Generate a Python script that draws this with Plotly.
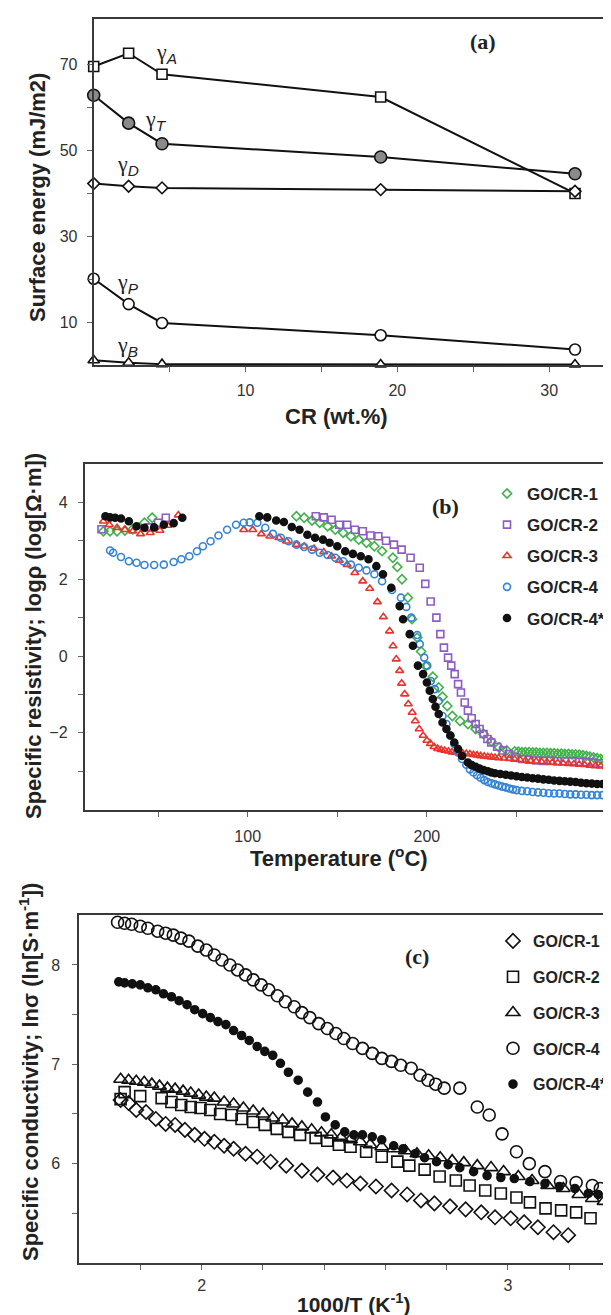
import plotly.graph_objects as go

W, H = 611, 1315

# ---------------- panel (a): surface energy vs CR ----------------
cr = [0.0, 2.3, 4.5, 18.9, 31.7]
gamma_a = [69.6, 72.7, 67.8, 62.5, 40.0]
gamma_t = [62.9, 56.4, 51.6, 48.5, 44.6]
gamma_d = [42.3, 41.7, 41.3, 40.9, 40.5]
gamma_p = [20.1, 14.2, 9.8, 6.95, 3.6]
gamma_b = [1.1, 0.5, 0.2, 0.1, 0.1]

# ---------------- panel (b): log resistivity vs temperature ----------------
t_cr1 = [19.5, 23.2, 27.1, 31.5, 35.8, 42.4, 46.7,
         127.2, 131.5, 135.9, 140.2, 144.6, 148.9, 153.3, 157.6, 162.0, 166.3, 170.7, 175.0,
         181.0, 183.5, 186.1, 189.4, 191.7, 194.6, 196.8, 199.4, 203.3, 206.6, 208.7, 211.4,
         214.2, 218.5, 222.9, 227.2, 231.6, 235.9, 240.3, 244.6, 249.0,
         251, 253, 255, 257, 259, 261, 263, 265, 267, 269, 271, 273, 275, 277, 279, 281,
         283, 285, 287, 289, 291, 293, 295, 297, 299, 301, 303, 305, 307]
r_cr1 = [3.25, 3.25, 3.25, 3.27, 3.3, 3.47, 3.6,
         3.64, 3.6, 3.53, 3.47, 3.38, 3.29, 3.21, 3.12, 3.03, 2.95, 2.86, 2.73,
         2.56, 2.32, 2.0, 1.52, 0.96, 0.48, 0.12, -0.26, -0.54, -0.82, -1.06, -1.3,
         -1.56, -1.69, -1.77, -1.9, -2.03, -2.22, -2.38, -2.46, -2.48,
         -2.49, -2.5, -2.5, -2.5, -2.51, -2.51, -2.52, -2.52, -2.52, -2.53, -2.53, -2.54, -2.54,
         -2.55, -2.55, -2.56, -2.56, -2.57, -2.58, -2.6, -2.62, -2.64, -2.66, -2.68, -2.7,
         -2.72, -2.73, -2.75, -2.76]

t_cr2 = [18.4, 45.0, 50.0, 54.3,
         138.0, 142.4, 146.8, 151.1, 155.5, 159.8, 164.2, 168.5, 172.9, 177.2, 181.6, 185.9,
         190.9, 196.0, 199.1, 202.1, 205.3, 207.5, 209.5, 211.8, 213.6, 215.5, 217.4, 219.0,
         221.1, 222.9, 225.0, 227.2, 229.4, 231.6, 233.8, 235.9, 239.2, 242.5, 245.7, 249.0,
         253.3, 257, 261, 265, 269, 273, 277, 281, 285, 289, 293, 297, 301, 305, 307]
r_cr2 = [3.3, 3.35, 3.47, 3.6,
         3.64, 3.61, 3.55, 3.42, 3.42, 3.29, 3.25, 3.14, 3.12, 3.0, 2.9, 2.77,
         2.56, 2.3, 1.88, 1.42, 1.0, 0.57, 0.22, -0.04, -0.25, -0.47, -0.73, -0.95,
         -1.21, -1.42, -1.62, -1.77, -1.9, -2.03, -2.16, -2.25, -2.36, -2.46, -2.55, -2.62,
         -2.68, -2.7, -2.72, -2.73, -2.73, -2.74, -2.74, -2.74, -2.75, -2.76, -2.77, -2.79,
         -2.8, -2.82, -2.83]

t_cr3 = [19.5, 22.8, 27.1, 31.5, 35.8, 40.2, 45.6, 51.0, 55.4, 61.3,
         97.8, 102.8, 107.6, 112.4, 117.4, 121.7, 127.2, 131.5, 137.0, 142.4, 146.8, 151.1,
         155.5, 159.8, 164.2, 168.1, 172.4, 175.7, 179.2, 181.1, 182.9, 184.8, 185.9, 187.6,
         189.6, 191.8, 193.5, 195.7, 197.9, 200.0, 202, 204, 206, 208, 210, 212, 214, 216,
         218, 220, 222, 224, 226, 228, 230, 232, 234, 236, 238, 240, 243, 246, 249, 252,
         255, 258, 261, 264, 267, 270, 273, 276, 279, 282, 285, 288, 291, 294, 297, 300,
         303, 306]
r_cr3 = [3.51, 3.42, 3.34, 3.29, 3.25, 3.18, 3.21, 3.27, 3.4, 3.67,
         3.29, 3.29, 3.18, 3.12, 3.08, 2.99, 2.9, 2.86, 2.8, 2.71, 2.6, 2.49,
         2.38, 2.17, 1.95, 1.76, 1.41, 1.02, 0.65, 0.26, -0.08, -0.38, -0.71, -0.99,
         -1.25, -1.47, -1.69, -1.9, -2.07, -2.2, -2.28, -2.36, -2.41, -2.44, -2.46, -2.48,
         -2.5, -2.51, -2.52, -2.53, -2.54, -2.55, -2.57, -2.58, -2.6, -2.61, -2.62, -2.63,
         -2.64, -2.65, -2.66, -2.67, -2.69, -2.7, -2.72, -2.73, -2.74, -2.75, -2.76, -2.77,
         -2.78, -2.79, -2.8, -2.81, -2.82, -2.83, -2.85, -2.86, -2.87, -2.88, -2.89, -2.9]

t_cr4 = [23.2, 24.9, 29.3, 33.7, 38.0, 42.4, 47.8, 53.2, 58.7, 63.0, 67.4, 71.7, 75.0,
         79.3, 83.7, 88.5, 93.5, 97.8, 101.1, 105.4, 109.8, 114.1, 118.5, 122.8, 127.2,
         131.5, 135.9, 140.2, 144.6, 148.9, 153.3, 157.6, 162.0, 166.3, 170.7, 175.0, 180.5,
         185.5, 188.5, 191.3, 194.6, 196.0, 198.5, 200.2, 202.2, 204.4, 206.6, 208.7, 210.9,
         213.1, 215.3, 217.4, 219.6, 222, 224, 226, 228, 230, 232, 234, 236, 238, 240, 242,
         244, 246, 248, 250, 253, 256, 259, 262, 265, 268, 271, 274, 277, 280, 283, 286, 289,
         292, 295, 298, 301, 304, 307]
r_cr4 = [2.75, 2.69, 2.58, 2.47, 2.43, 2.37, 2.37, 2.38, 2.45, 2.52, 2.6, 2.73, 2.86,
         2.99, 3.14, 3.29, 3.42, 3.47, 3.48, 3.47, 3.34, 3.18, 3.08, 2.99, 2.9,
         2.84, 2.77, 2.69, 2.63, 2.56, 2.47, 2.38, 2.3, 2.23, 2.13, 1.95, 1.72,
         1.52, 1.28, 1.0, 0.55, 0.31, -0.04, -0.25, -0.65, -0.86, -1.17, -1.56, -1.77,
         -2.07, -2.29, -2.51, -2.68, -2.83, -2.95, -3.03, -3.1, -3.17, -3.23, -3.28, -3.31,
         -3.34, -3.37, -3.4, -3.42, -3.45, -3.47, -3.49, -3.51, -3.52, -3.54, -3.55, -3.56,
         -3.57, -3.58, -3.58, -3.59, -3.6, -3.6, -3.61, -3.61, -3.62, -3.62, -3.62, -3.62,
         -3.62, -3.6]

t_cr4s = [20.6, 23.2, 26.0, 29.3, 33.7, 38.0, 42.4, 47.8, 53.2, 58.7, 63.5,
          106.5, 110.9, 115.9, 120.2, 124.6, 128.9, 133.3, 137.6, 142.0, 145.7, 150.0, 154.4,
          158.7, 163.1, 167.4, 171.8, 175.5, 180.1, 184.8, 186.7, 190.4, 192.2, 195.0, 197.9,
          200.0, 201.6, 203.3, 204.8, 206.6, 208.7, 210.9, 213.1, 215.3, 217.4, 219.6, 222.9,
          225.0, 227.2, 229.4, 231.6, 234, 236, 238, 241, 244, 247, 250, 253, 256, 259, 262,
          265, 268, 271, 274, 277, 280, 283, 286, 289, 292, 295, 298, 301, 304, 307]
r_cr4s = [3.64, 3.61, 3.6, 3.58, 3.51, 3.38, 3.34, 3.35, 3.42, 3.46, 3.6,
          3.64, 3.61, 3.53, 3.49, 3.36, 3.29, 3.16, 3.08, 3.03, 2.95, 2.86, 2.73,
          2.66, 2.6, 2.52, 2.34, 2.13, 1.78, 1.3, 0.96, 0.57, 0.27, -0.25, -0.47,
          -0.69, -0.9, -1.12, -1.32, -1.51, -1.73, -1.9, -2.07, -2.25, -2.42, -2.6, -2.77,
          -2.84, -2.88, -2.93, -2.97, -3.0, -3.03, -3.05, -3.07, -3.09, -3.11, -3.13, -3.15,
          -3.16, -3.18, -3.19, -3.21, -3.22, -3.24, -3.25, -3.26, -3.27, -3.28, -3.3, -3.31,
          -3.32, -3.33, -3.33, -3.34, -3.35, -3.35]

# ---------------- panel (c): ln conductivity vs 1000/T ----------------
x_c1 = [1.735, 1.761, 1.786, 1.818, 1.85, 1.882, 1.913, 1.945, 1.977, 2.009, 2.041, 2.073,
        2.104, 2.143, 2.181, 2.225, 2.276, 2.327, 2.378, 2.429, 2.474, 2.518, 2.569, 2.62,
        2.671, 2.716, 2.76, 2.811, 2.862, 2.913, 2.958, 3.009, 3.053, 3.098, 3.149, 3.197]
s_c1 = [6.64, 6.61, 6.54, 6.52, 6.45, 6.4, 6.39, 6.34, 6.29, 6.25, 6.22, 6.18,
        6.15, 6.1, 6.07, 6.02, 5.98, 5.93, 5.89, 5.86, 5.83, 5.8, 5.77, 5.73,
        5.69, 5.63, 5.6, 5.57, 5.54, 5.51, 5.46, 5.45, 5.41, 5.36, 5.31, 5.28]

x_c2 = [1.735, 1.748, 1.799, 1.869, 1.901, 1.933, 1.964, 1.996, 2.028, 2.06, 2.098, 2.13,
        2.168, 2.206, 2.245, 2.283, 2.321, 2.372, 2.41, 2.448, 2.486, 2.537, 2.588, 2.639,
        2.678, 2.728, 2.777, 2.83, 2.875, 2.926, 2.977, 3.028, 3.072, 3.123, 3.174, 3.223,
        3.27]
s_c2 = [6.65, 6.72, 6.68, 6.66, 6.62, 6.59, 6.57, 6.56, 6.54, 6.5, 6.49, 6.45,
        6.42, 6.39, 6.35, 6.32, 6.29, 6.26, 6.23, 6.19, 6.17, 6.12, 6.07, 6.02,
        5.98, 5.94, 5.87, 5.83, 5.78, 5.73, 5.7, 5.66, 5.61, 5.55, 5.53, 5.51,
        5.45]

x_c3 = [1.735, 1.761, 1.786, 1.812, 1.837, 1.862, 1.888, 1.913, 1.939, 1.964, 1.99, 2.015,
        2.041, 2.073, 2.104, 2.136, 2.168, 2.2, 2.232, 2.264, 2.295, 2.327, 2.359, 2.391,
        2.423, 2.455, 2.486, 2.518, 2.55, 2.588, 2.627, 2.665, 2.703, 2.741, 2.779, 2.818,
        2.856, 2.9, 2.945, 2.986, 3.034, 3.079, 3.13, 3.181, 3.232, 3.276, 3.314]
s_c3 = [6.85, 6.84, 6.83, 6.82, 6.8, 6.78, 6.76, 6.75, 6.73, 6.71, 6.69, 6.67,
        6.66, 6.62, 6.6, 6.56, 6.53, 6.5, 6.46, 6.44, 6.4, 6.37, 6.34, 6.31,
        6.29, 6.26, 6.24, 6.22, 6.19, 6.17, 6.15, 6.13, 6.1, 6.08, 6.06, 6.03,
        6.01, 5.98, 5.96, 5.92, 5.87, 5.83, 5.78, 5.75, 5.69, 5.65, 5.62]

x_c4 = [1.725, 1.748, 1.771, 1.799, 1.824, 1.856, 1.882, 1.907, 1.932, 1.958, 1.987, 2.015,
        2.041, 2.066, 2.092, 2.117, 2.143, 2.168, 2.194, 2.219, 2.247, 2.273, 2.302, 2.327,
        2.353, 2.382, 2.41, 2.438, 2.464, 2.493, 2.525, 2.557, 2.588, 2.62, 2.65, 2.684,
        2.713, 2.739, 2.764, 2.792, 2.843, 2.9, 2.939, 2.981, 3.028, 3.07, 3.121, 3.172,
        3.223, 3.276, 3.302]
s_c4 = [8.43, 8.42, 8.41, 8.39, 8.37, 8.34, 8.32, 8.3, 8.27, 8.24, 8.19, 8.15,
        8.1, 8.05, 8.0, 7.95, 7.9, 7.85, 7.8, 7.75, 7.69, 7.63, 7.58, 7.52,
        7.47, 7.41, 7.36, 7.31, 7.26, 7.21, 7.16, 7.11, 7.06, 7.03, 6.99, 6.96,
        6.89, 6.84, 6.8, 6.76, 6.76, 6.57, 6.49, 6.3, 6.12, 6.0, 5.92, 5.82,
        5.81, 5.78, 5.75]

x_c4s = [1.729, 1.748, 1.773, 1.799, 1.824, 1.85, 1.875, 1.901, 1.926, 1.952, 1.977, 2.003,
         2.028, 2.053, 2.079, 2.104, 2.13, 2.155, 2.181, 2.206, 2.232, 2.257, 2.283, 2.315,
         2.346, 2.378, 2.404, 2.436, 2.467, 2.497, 2.525, 2.557, 2.588, 2.627, 2.658, 2.697,
         2.728, 2.767, 2.805, 2.843, 2.888, 2.932, 2.977, 3.021, 3.072, 3.121, 3.168, 3.219,
         3.263, 3.295]
s_c4s = [7.83, 7.82, 7.81, 7.8, 7.77, 7.75, 7.71, 7.68, 7.64, 7.6, 7.55, 7.51,
         7.47, 7.43, 7.4, 7.34, 7.29, 7.24, 7.18, 7.13, 7.09, 7.01, 6.92, 6.84,
         6.72, 6.62, 6.47, 6.39, 6.32, 6.29, 6.29, 6.27, 6.24, 6.18, 6.15, 6.1,
         6.06, 6.02, 5.99, 5.96, 5.92, 5.88, 5.86, 5.85, 5.82, 5.8, 5.77, 5.75,
         5.7, 5.69]

SANS = "Liberation Sans, Arial, sans-serif"
SERIF = "Liberation Serif, Times New Roman, serif"
AX = "#3a3a3a"

fig = go.Figure()


def px_x(p):
    return p / W


def px_y(p):
    return 1 - p / H


# panel (a) lines
a_series = [
    (gamma_a, "square", "white", 10),
    (gamma_t, "circle", "#8a8a8a", 12),
    (gamma_d, "diamond", "white", 9),
    (gamma_p, "circle", "white", 11),
    (gamma_b, "triangle-up", "white", 10),
]
for vals, sym, fill, size in a_series:
    fig.add_trace(go.Scatter(
        x=cr, y=vals, mode="lines+markers", xaxis="x", yaxis="y", showlegend=False,
        line=dict(color="#111", width=2),
        marker=dict(symbol=sym, color=fill, size=size, line=dict(color="#111", width=1.6)),
        cliponaxis=False))

# panel (b) scatter
b_series = [
    ("GO/CR-1", t_cr1, r_cr1, "diamond-open", "#3fb24a", 7),
    ("GO/CR-2", t_cr2, r_cr2, "square-open", "#8d5cc4", 7),
    ("GO/CR-3", t_cr3, r_cr3, "triangle-up-open", "#e8342b", 7),
    ("GO/CR-4", t_cr4, r_cr4, "circle-open", "#3383d6", 7),
    ("GO/CR-4*", t_cr4s, r_cr4s, "circle", "#111111", 7),
]
for name, xs, ys, sym, col, size in b_series:
    fig.add_trace(go.Scatter(
        x=xs, y=ys, mode="markers", name=name, xaxis="x2", yaxis="y2",
        legend="legend", legendgroup="b" + name,
        marker=dict(symbol=sym, color=col, size=size, line=dict(color=col, width=1.6)),
        cliponaxis=False))

# panel (c) scatter
c_series = [
    ("GO/CR-1", x_c1, s_c1, "diamond-open", 11),
    ("GO/CR-2", x_c2, s_c2, "square-open", 11),
    ("GO/CR-3", x_c3, s_c3, "triangle-up-open", 12),
    ("GO/CR-4", x_c4, s_c4, "circle-open", 12),
    ("GO/CR-4*", x_c4s, s_c4s, "circle", 8),
]
for name, xs, ys, sym, size in c_series:
    fig.add_trace(go.Scatter(
        x=xs, y=ys, mode="markers", name=name, xaxis="x3", yaxis="y3",
        legend="legend2", legendgroup="c" + name,
        marker=dict(symbol=sym, color="#111", size=size, line=dict(color="#111", width=1.6)),
        cliponaxis=False))

tickfont = dict(family=SANS, size=16, color="#333")


def axis(domain, rng, major, minor, anchor, standoff, mirror):
    return dict(domain=domain, range=rng, anchor=anchor, showgrid=False, zeroline=False,
                showline=True, linecolor=AX, linewidth=2, mirror=mirror,
                ticks="outside", ticklen=5, tickwidth=1.2, tickcolor="#666",
                tickmode="array", tickvals=major, tickfont=tickfont,
                ticklabelstandoff=standoff,
                minor=dict(tickmode="array", tickvals=minor, ticks="outside", ticklen=5,
                           tickwidth=1.2, tickcolor="#666"))


fig.update_layout(
    width=W, height=H,
    margin=dict(l=0, r=0, t=0, b=0, autoexpand=False),
    paper_bgcolor="white", plot_bgcolor="white",
    xaxis=axis([px_x(85.7), px_x(608)], [0, 34.4], [10, 20, 30], [5, 15, 25], "y", 5, True),
    yaxis=axis([px_y(357), px_y(10.5)], [0, 80.8], [10, 30, 50, 70], [20, 40, 60], "x", 6, True),
    xaxis2=axis([px_x(76.8), 1.0], [9.1, 307.2], [100, 200], [50, 150, 250, 300], "y2", 6, True),
    yaxis2=axis([px_y(801.7), px_y(456)], [-4, 5], [-2, 0, 2, 4], [-3, -1, 1, 3], "x2", 7, False),
    xaxis3=axis([px_x(71.3), 1.0], [1.6, 3.363], [2, 3], [1.8, 2.2, 2.4, 2.6, 2.8, 3.2],
                "y3", 2, True),
    yaxis3=axis([px_y(1255), px_y(907.3)], [5, 8.5], [6, 7, 8], [5.5, 6.5, 7.5], "x3", 9, False),
    legend=dict(x=px_x(479), y=px_y(468), xanchor="left", yanchor="top",
                font=dict(family=SANS, size=17, color="#222", weight="bold"),
                bgcolor="rgba(0,0,0,0)", tracegroupgap=6, itemwidth=30),
    legend2=dict(x=px_x(485), y=px_y(916), xanchor="left", yanchor="top",
                 font=dict(family=SANS, size=16, color="#222", weight="bold"),
                 bgcolor="rgba(0,0,0,0)", tracegroupgap=12, itemwidth=30),
)

anns = []


def label(text, x, y, size, family=SANS, bold=True, angle=0, color="#222"):
    anns.append(dict(text=text, x=px_x(x), y=px_y(y), xref="paper", yref="paper",
                     showarrow=False, textangle=angle, xanchor="center", yanchor="middle",
                     font=dict(family=family, size=size, color=color,
                               weight="bold" if bold else "normal")))


# axis titles
label("Surface energy (mJ/m2)", 29, 190, 22, angle=-90)
label("CR (wt.%)", 328, 408, 22)
label("Specific resistivity; log\u03c1 (log[\u03a9\u00b7m])", 25, 628, 22, angle=-90)
label("Temperature (<sup>o</sup>C)", 331, 849, 22)
label("Specific conductivity; ln\u03c3 (ln[S\u00b7m<sup>-1</sup>])", 21, 1064, 22, angle=-90)
label("1000/T (K<sup>-1</sup>)", 345, 1295, 21)

# panel letters
label("(a)", 475, 33, 22, family=SERIF)
label("(b)", 438, 498, 22, family=SERIF)
label("(c)", 409, 948, 22, family=SERIF)

# gamma labels
sub = '<sub><i><span style="font-family:Liberation Sans">{}</span></i></sub>'
for s, x, y in [("A", 158, 45), ("T", 148, 112), ("D", 120, 157), ("P", 120, 275), ("B", 120, 338)]:
    label("\u03b3" + sub.format(s), x, y, 22, family=SERIF, bold=False, color="#222")

fig.update_layout(annotations=anns)

fig.write_html("out.html")
